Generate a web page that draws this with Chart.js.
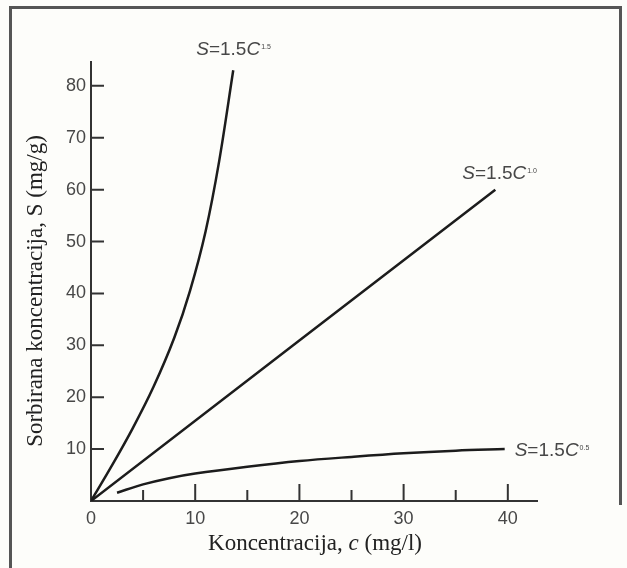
<!DOCTYPE html>
<html><head><meta charset="utf-8">
<script src="https://cdn.jsdelivr.net/npm/chart.js@4.4.0/dist/chart.umd.min.js"></script>
<style>html,body{margin:0;padding:0;background:#fdfdfa;} #wrap{width:627px;height:568px;position:relative;}</style>
</head><body><div id="wrap"><canvas id="c" width="627" height="568"></canvas></div>
<script>
// ---- data ----
const xTickValues = [0, 10, 20, 30, 40];
const xMinorTicks = [5, 15, 25, 35];
const yTickValues = [10, 20, 30, 40, 50, 60, 70, 80];

const cSteep = [0, 2, 4, 6, 8, 9.5, 11, 12.3, 13.65];
const sSteep = [0, 6.8, 14, 22, 31.5, 40.5, 52, 65.5, 83];

const cLinear = [0, 38.8];
const sLinear = [0, 60];

const cSqrt = [2.5, 5, 7.5, 10, 15, 20, 25, 30, 35, 39.7];
const sSqrt = [1.6, 3.2, 4.4, 5.3, 6.6, 7.7, 8.5, 9.2, 9.7, 10.0];

const curveLabels = [
  {base: ['S', '=1.5', 'C'], sup: '1.5'},
  {base: ['S', '=1.5', 'C'], sup: '1.0'},
  {base: ['S', '=1.5', 'C'], sup: '0.5'}
];
const xTitleParts = ['Koncentracija, ', 'c', ' (mg/l)'];
const yTitle = 'Sorbirana koncentracija, S (mg/g)';

function pts(xs, ys) { return xs.map((x, i) => ({x: x, y: ys[i]})); }

const LINE = '#1c1c1c';
const AXIS = '#333333';
const TXT = '#474747';

const framePlugin = {
  id: 'frame',
  beforeDraw(chart) {
    const ctx = chart.ctx;
    ctx.save();
    ctx.strokeStyle = '#555';
    ctx.lineWidth = 3;
    ctx.beginPath();
    ctx.moveTo(10.5, 568); ctx.lineTo(10.5, 7.5); ctx.lineTo(620.5, 7.5); ctx.lineTo(620.5, 505);
    ctx.stroke();
    ctx.restore();
  }
};

const decoPlugin = {
  id: 'deco',
  afterDraw(chart) {
    const ctx = chart.ctx;
    const xs = chart.scales.x, ys = chart.scales.y;
    const y0 = ys.getPixelForValue(0), x0 = xs.getPixelForValue(0);
    ctx.save();
    ctx.strokeStyle = AXIS;
    ctx.lineWidth = 2;
    ctx.beginPath();
    xTickValues.filter(v => v > 0).forEach(v => { const p = xs.getPixelForValue(v); ctx.moveTo(p, y0); ctx.lineTo(p, y0 - 17); });
    xMinorTicks.forEach(v => { const p = xs.getPixelForValue(v); ctx.moveTo(p, y0); ctx.lineTo(p, y0 - 11); });
    yTickValues.forEach(v => { const p = ys.getPixelForValue(v); ctx.moveTo(x0, p); ctx.lineTo(x0 + 13, p); });
    ctx.stroke();

    // curve labels
    const ends = [
      {x: cSteep[cSteep.length - 1], y: sSteep[sSteep.length - 1], dx: -37, dy: -15},
      {x: cLinear[cLinear.length - 1], y: sLinear[sLinear.length - 1], dx: -33, dy: -10.5},
      {x: cSqrt[cSqrt.length - 1], y: sSqrt[sSqrt.length - 1], dx: 10, dy: 7}
    ];
    ctx.fillStyle = TXT;
    ctx.textBaseline = 'alphabetic';
    ctx.textAlign = 'left';
    curveLabels.forEach((lab, i) => {
      const e = ends[i];
      let px = xs.getPixelForValue(e.x) + e.dx;
      const py = ys.getPixelForValue(e.y) + e.dy;
      lab.base.forEach((seg, j) => {
        ctx.font = (j === 1 ? '' : 'italic ') + '19px "Liberation Sans", Arial, sans-serif';
        ctx.fillText(seg, px, py);
        px += ctx.measureText(seg).width;
      });
      ctx.font = '7px "Liberation Sans", Arial, sans-serif';
      ctx.fillText(lab.sup, px + 1, py - 6.5);
    });

    // x title with italic c
    ctx.fillStyle = '#222';
    const fam = '"Liberation Serif", "Times New Roman", serif';
    const fonts = ['23px ' + fam, 'italic 23px ' + fam, '23px ' + fam];
    let total = 0;
    xTitleParts.forEach((s, i) => { ctx.font = fonts[i]; total += ctx.measureText(s).width; });
    let tx = 315 - total / 2;
    xTitleParts.forEach((s, i) => { ctx.font = fonts[i]; ctx.fillText(s, tx, 550); tx += ctx.measureText(s).width; });

    // y title
    ctx.translate(42, 291);
    ctx.rotate(-Math.PI / 2);
    ctx.textAlign = 'center';
    ctx.font = '23px ' + fam;
    ctx.fillText(yTitle, 0, 0);
    ctx.restore();
  }
};

const ds = (data) => ({data: data, showLine: true, borderColor: LINE, borderWidth: 2.5, pointRadius: 0, fill: false, tension: 0.35});

new Chart(document.getElementById('c'), {
  type: 'scatter',
  data: {datasets: [ds(pts(cSteep, sSteep)), ds(pts(cLinear, sLinear)), ds(pts(cSqrt, sSqrt))]},
  options: {
    responsive: false, animation: false,
    layout: {padding: {top: 62, right: 90, bottom: 0, left: 0}},
    plugins: {legend: {display: false}, tooltip: {enabled: false}},
    scales: {
      x: {
        type: 'linear', min: 0, max: 42.8,
        grid: {display: false, drawTicks: false},
        border: {display: true, color: AXIS, width: 2},
        ticks: {font: {family: '"Liberation Sans", Arial, sans-serif', size: 18}, color: TXT, padding: 7, maxRotation: 0, autoSkip: false},
        afterBuildTicks: s => { s.ticks = xTickValues.map(v => ({value: v})); },
        afterFit: s => { s.height = 67; }
      },
      y: {
        type: 'linear', min: 0, max: 84.6,
        grid: {display: false, drawTicks: false},
        border: {display: true, color: AXIS, width: 2},
        ticks: {font: {family: '"Liberation Sans", Arial, sans-serif', size: 18}, color: TXT, padding: 5, autoSkip: false},
        afterBuildTicks: s => { s.ticks = yTickValues.map(v => ({value: v})); },
        afterFit: s => { s.width = 91; }
      }
    }
  },
  plugins: [framePlugin, decoPlugin]
});
</script></body></html>
